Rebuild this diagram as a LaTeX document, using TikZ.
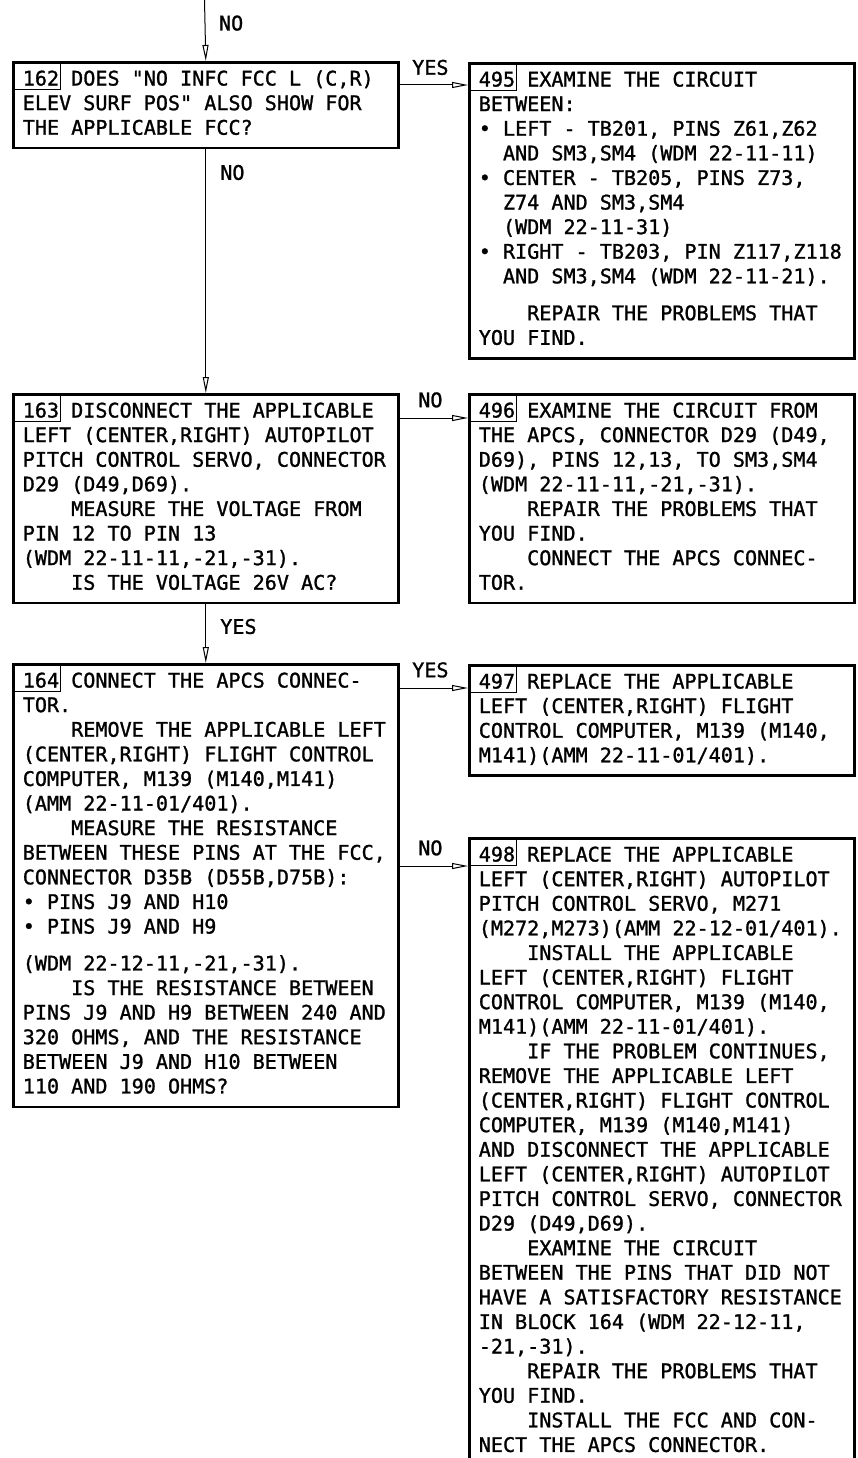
\documentclass[tikz,border=0pt]{standalone}
\usepackage{fontspec}
\setmonofont[FakeBold=1.2]{DejaVu Sans Mono}
\usetikzlibrary{arrows.meta, calc}
\newcommand{\ind}{\phantom{MMMM}}
\newcommand{\hang}{\phantom{MM}}
\newcommand{\cellspace}{\frenchspacing\spaceskip=\fontcharwd\font`M\relax\xspaceskip=\spaceskip}

\begin{document}
\begin{tikzpicture}[x=1pt, y=-1pt,
  every node/.style={font=\ttfamily\fontsize{20.1}{24.6}\selectfont},
  stepbox/.style={draw, line width=2.6pt, anchor=north west, align=left, text width=366pt,
    inner xsep=9.5pt, inner ysep=6pt, execute at begin node={\cellspace\strut}, execute at end node=\strut},
  numbox/.style={draw, line width=1pt, anchor=north west, minimum width=48pt, minimum height=28pt, inner sep=0pt},
  flow/.style={line width=1pt, -{Triangle[open, length=16pt, width=6pt]}},
  lbl/.style={inner sep=0pt}]
\useasboundingbox (0,0) rectangle (857,1458);
% entry from the block above
\coordinate (entry) at (204.5,0);
% left column: test blocks
\node[stepbox] (s162) at (12,61) {162 DOES "NO INFC FCC L (C,R)\\ELEV SURF POS" ALSO SHOW FOR\\THE APPLICABLE FCC?};
\node[stepbox] (s163) at (12,393) {163 DISCONNECT THE APPLICABLE\\LEFT (CENTER,RIGHT) AUTOPILOT\\PITCH CONTROL SERVO, CONNECTOR\\D29 (D49,D69).\\\ind MEASURE THE VOLTAGE FROM\\PIN 12 TO PIN 13\\(WDM 22-11-11,-21,-31).\\\ind IS THE VOLTAGE 26V AC?};
\node[stepbox] (s164) at (12,663) {164 CONNECT THE APCS CONNEC-\\TOR.\\\ind REMOVE THE APPLICABLE LEFT\\(CENTER,RIGHT) FLIGHT CONTROL\\COMPUTER, M139 (M140,M141)\\(AMM 22-11-01/401).\\\ind MEASURE THE RESISTANCE\\BETWEEN THESE PINS AT THE FCC,\\CONNECTOR D35B (D55B,D75B):\\• PINS J9 AND H10\\• PINS J9 AND H9\\[12.3pt](WDM 22-12-11,-21,-31).\\\ind IS THE RESISTANCE BETWEEN\\PINS J9 AND H9 BETWEEN 240 AND\\320 OHMS, AND THE RESISTANCE\\BETWEEN J9 AND H10 BETWEEN\\110 AND 190 OHMS?};
% right column: repair blocks
\node[stepbox] (s495) at (468,62) {495 EXAMINE THE CIRCUIT\\BETWEEN:\\• LEFT - TB201, PINS Z61,Z62\\\hang AND SM3,SM4 (WDM 22-11-11)\\• CENTER - TB205, PINS Z73,\\\hang Z74 AND SM3,SM4\\\hang (WDM 22-11-31)\\• RIGHT - TB203, PIN Z117,Z118\\\hang AND SM3,SM4 (WDM 22-11-21).\\[12.3pt]\ind REPAIR THE PROBLEMS THAT\\YOU FIND.};
\node[stepbox] (s496) at (468,393) {496 EXAMINE THE CIRCUIT FROM\\THE APCS, CONNECTOR D29 (D49,\\D69), PINS 12,13, TO SM3,SM4\\(WDM 22-11-11,-21,-31).\\\ind REPAIR THE PROBLEMS THAT\\YOU FIND.\\\ind CONNECT THE APCS CONNEC-\\TOR.};
\node[stepbox] (s497) at (468,664) {497 REPLACE THE APPLICABLE\\LEFT (CENTER,RIGHT) FLIGHT\\CONTROL COMPUTER, M139 (M140,\\M141)(AMM 22-11-01/401).};
\node[stepbox] (s498) at (468,837) {498 REPLACE THE APPLICABLE\\LEFT (CENTER,RIGHT) AUTOPILOT\\PITCH CONTROL SERVO, M271\\(M272,M273)(AMM 22-12-01/401).\\\ind INSTALL THE APPLICABLE\\LEFT (CENTER,RIGHT) FLIGHT\\CONTROL COMPUTER, M139 (M140,\\M141)(AMM 22-11-01/401).\\\ind IF THE PROBLEM CONTINUES,\\REMOVE THE APPLICABLE LEFT\\(CENTER,RIGHT) FLIGHT CONTROL\\COMPUTER, M139 (M140,M141)\\AND DISCONNECT THE APPLICABLE\\LEFT (CENTER,RIGHT) AUTOPILOT\\PITCH CONTROL SERVO, CONNECTOR\\D29 (D49,D69).\\\ind EXAMINE THE CIRCUIT\\BETWEEN THE PINS THAT DID NOT\\HAVE A SATISFACTORY RESISTANCE\\IN BLOCK 164 (WDM 22-12-11,\\-21,-31).\\\ind REPAIR THE PROBLEMS THAT\\YOU FIND.\\\ind INSTALL THE FCC AND CON-\\NECT THE APCS CONNECTOR.};
% block number frames
\foreach \s in {162,163,164,495,496,497,498}
  \node[numbox] (n\s) at (s\s.north west) {};
% vertical flow
\draw[flow] (entry) -- (s162.north) node[lbl, at start, anchor=north west, xshift=14pt, yshift=-15pt] {NO};
\draw[flow] (s162.south) -- (s163.north) node[lbl, at start, anchor=north west, xshift=14pt, yshift=-15pt] {NO};
\draw[flow] (s163.south) -- (s164.north) node[lbl, at start, anchor=north west, xshift=14pt, yshift=-14pt] {YES};
% branches to the right
\coordinate (in495) at ($(s495.north west)+(0,23)$);
\coordinate (in496) at ($(s496.north west)+(0,25)$);
\coordinate (in497) at ($(s497.north west)+(0,24)$);
\coordinate (in498) at ($(s498.north west)+(0,29)$);
\draw[flow] (s162.east |- in495) -- (in495) node[lbl, pos=0.45, anchor=south, yshift=9.5pt] {YES};
\draw[flow] (s163.east |- in496) -- (in496) node[lbl, pos=0.45, anchor=south, yshift=10pt] {NO};
\draw[flow] (s164.east |- in497) -- (in497) node[lbl, pos=0.45, anchor=south, yshift=10pt] {YES};
\draw[flow] (s164.east |- in498) -- (in498) node[lbl, pos=0.45, anchor=south, yshift=10pt] {NO};
\end{tikzpicture}
\end{document}
